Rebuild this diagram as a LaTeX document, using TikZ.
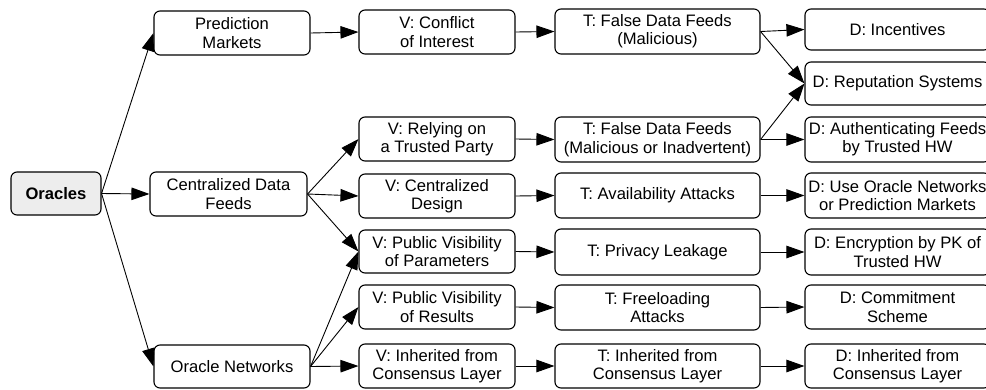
\documentclass[tikz,border=0pt]{standalone}
\usepackage{fontspec}
\setmainfont{Liberation Sans}
\usetikzlibrary{arrows.meta}
\tikzset{
  box/.style={draw=black, line width=1.1pt, rounded corners=6pt, align=center,
    inner sep=0pt, font=\fontsize{16.6}{18.4}\selectfont},
  rootbox/.style={box, fill=black!7, font=\fontsize{16.6}{18.4}\selectfont\bfseries},
  link/.style={line width=0.9pt, -{Triangle[length=18pt,width=12.5pt]}}
}
% \bx{name}{left}{top}{right}{bottom}{style}{text}
\newcommand{\bx}[7]{%
  \node[#6, minimum width={(#4-#2)*1pt}, minimum height={(#5-#3)*1pt}]
    (#1) at ({(#2+#4)/2},{(#3+#5)/2}) {#7};}
\begin{document}
\begin{tikzpicture}[x=1pt,y=-1pt]
\useasboundingbox (0,0) rectangle (986,389);
\clip (0,0) rectangle (986,389.5);
\bx{or}{11}{172}{101}{215}{rootbox}{Oracles}
\bx{pm}{154}{11}{310}{55}{box}{Prediction\\Markets}
\bx{cdf}{150}{172}{307}{216}{box}{Centralized Data\\Feeds}
\bx{on}{154}{345}{310}{388}{box}{Oracle Networks}
%
\bx{v1}{359}{10}{515}{54}{box}{V: Conflict\\of Interest}
\bx{v2}{359}{117}{515}{161}{box}{V: Relying on\\a Trusted Party}
\bx{v3}{359}{174}{515}{218}{box}{V: Centralized\\Design}
\bx{v4}{359}{230}{515}{273}{box}{V: Public Visibility\\of Parameters}
\bx{v5}{359}{285}{515}{329}{box}{V: Public Visibility\\of Results}
\bx{v6}{359}{344}{515}{388}{box}{V: Inherited from\\Consensus Layer}
%
\bx{t1}{555}{9}{760}{54}{box}{T: False Data Feeds\\(Malicious)}
\bx{t2}{555}{117}{760}{162}{box}{T: False Data Feeds\\(Malicious or Inadvertent)}
\bx{t3}{555}{173}{760}{218}{box}{T: Availability Attacks}
\bx{t4}{555}{229}{760}{275}{box}{T: Privacy Leakage}
\bx{t5}{555}{285}{760}{330}{box}{T: Freeloading\\Attacks}
\bx{t6}{555}{344}{760}{388}{box}{T: Inherited from\\Consensus Layer}
%
\bx{d1}{805}{9}{990}{50}{box}{D: Incentives}
\bx{d2}{805}{62}{990}{105}{box}{D: Reputation Systems}
\bx{d3}{805}{117}{990}{162}{box}{D: Authenticating Feeds\\by Trusted HW}
\bx{d4}{805}{173}{990}{218}{box}{D: Use Oracle Networks\\or Prediction Markets}
\bx{d5}{805}{229}{990}{275}{box}{D: Encryption by PK of\\Trusted HW}
\bx{d6}{805}{285}{990}{329}{box}{D: Commitment\\Scheme}
\bx{d7}{805}{344}{990}{388}{box}{D: Inherited from\\Consensus Layer}
%
\draw[link] (or.east) -- (pm.west);
\draw[link] (or.east) -- (cdf.west);
\draw[link] (or.east) -- (on.west);
\draw[link] (pm.east) -- (v1.west);
\draw[link] (cdf.east) -- (v2.west);
\draw[link] (cdf.east) -- (v3.west);
\draw[link] (cdf.east) -- (v4.west);
\draw[link] (on.east) -- (v4.west);
\draw[link] (on.east) -- (v5.west);
\draw[link] (on.east) -- (v6.west);
\foreach \i in {1,...,6} { \draw[link] (v\i.east) -- (t\i.west); }
\draw[link] (t1.east) -- (d1.west);
\draw[link] (t1.east) -- (d2.west);
\draw[link] (t2.east) -- (d2.west);
\draw[link] (t2.east) -- (d3.west);
\draw[link] (t3.east) -- (d4.west);
\draw[link] (t4.east) -- (d5.west);
\draw[link] (t5.east) -- (d6.west);
\draw[link] (t6.east) -- (d7.west);
\end{tikzpicture}
\end{document}
